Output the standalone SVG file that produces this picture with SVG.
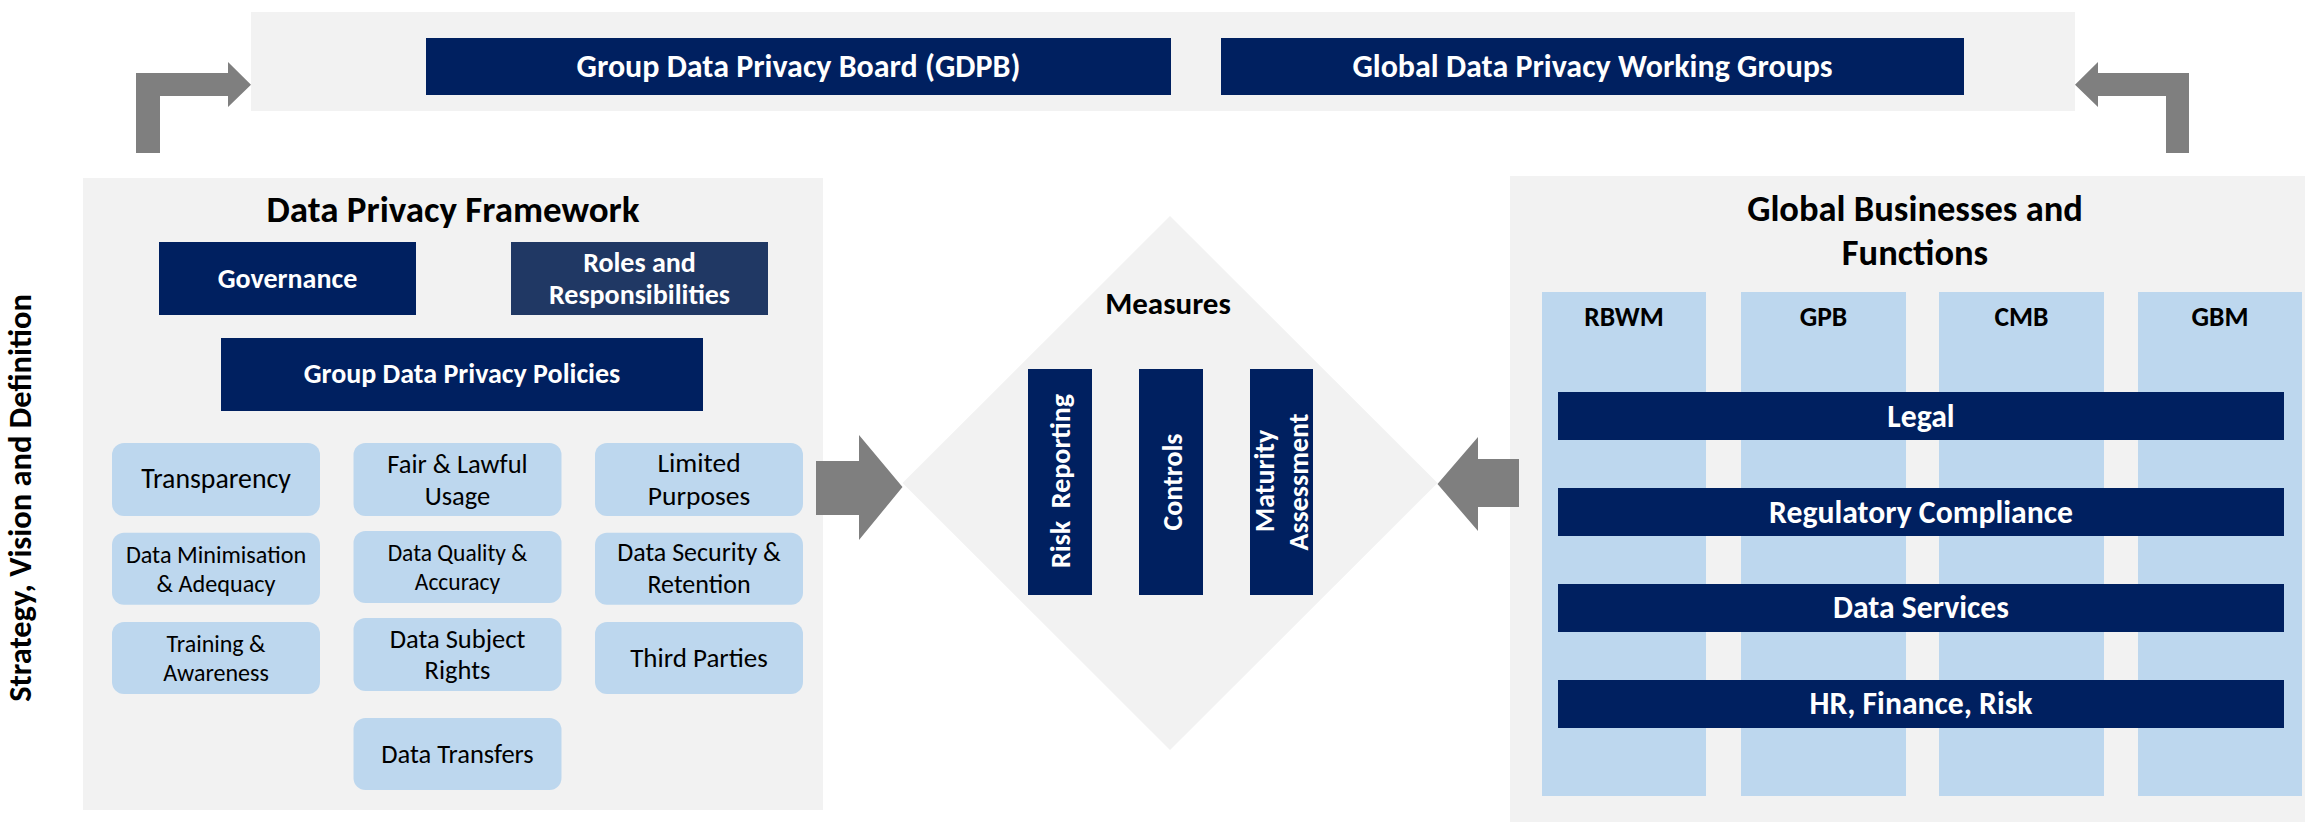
<svg xmlns="http://www.w3.org/2000/svg" width="2305" height="822" viewBox="0 0 2305 822">
<style>
.panel{fill:#f2f2f2}
.navy{fill:#002060}
.navy2{fill:#203864}
.lb{fill:#bdd7ee}
.arrow{fill:#7f7f7f}
text{font-family:Carlito,Lato,"Liberation Sans",sans-serif;text-anchor:middle}
.w{fill:#ffffff;font-weight:bold}
.b{fill:#000000;font-weight:bold}
.r{fill:#000000}
</style>
<rect width="2305" height="822" fill="#ffffff"/>

<g id="top-band">
<rect class="panel" x="251" y="12" width="1824" height="99"/>
</g>
<g id="gdpb">
<rect class="navy" x="426" y="38" width="745" height="57"/>
<text class="w" x="798.5" y="77" font-size="32">Group Data Privacy Board (GDPB)</text>
</g>
<g id="gdpwg">
<rect class="navy" x="1221" y="38" width="743" height="57"/>
<text class="w" x="1592.5" y="77" font-size="32">Global Data Privacy Working Groups</text>
</g>

<g id="strategy-label">
<text class="b" transform="translate(31,498) rotate(-90)" font-size="32.5">Strategy, Vision and Definition</text>
</g>

<g id="framework">
<rect class="panel" x="83" y="178" width="740" height="632"/>
<text class="b" x="453" y="222" font-size="37">Data Privacy Framework</text>
</g>
<g id="governance">
<rect class="navy" x="159" y="242" width="257" height="73"/>
<text class="w" x="287.5" y="288" font-size="28">Governance</text>
</g>
<g id="roles">
<rect class="navy2" x="511" y="242" width="257" height="73"/>
<text class="w" x="639.5" y="272" font-size="28">Roles and</text>
<text class="w" x="639.5" y="304" font-size="28">Responsibilities</text>
</g>
<g id="policies">
<rect class="navy" x="221" y="338" width="482" height="73"/>
<text class="w" x="462" y="383" font-size="28">Group Data Privacy Policies</text>
</g>

<g id="transparency">
<rect class="lb" x="112" y="443" width="208" height="73" rx="12"/>
<text class="r" x="216" y="488" font-size="27.8">Transparency</text>
</g>
<g id="fair-lawful">
<rect class="lb" x="353.5" y="443" width="208" height="73" rx="12"/>
<text class="r" x="457.5" y="473" font-size="26.5">Fair &amp; Lawful</text>
<text class="r" x="457.5" y="505" font-size="26.5">Usage</text>
</g>
<g id="limited-purposes">
<rect class="lb" x="595" y="443" width="208" height="73" rx="12"/>
<text class="r" x="699" y="472" font-size="27.5">Limited</text>
<text class="r" x="699" y="505" font-size="27.5">Purposes</text>
</g>
<g id="minimisation">
<rect class="lb" x="112" y="532.7" width="208" height="72" rx="12"/>
<text class="r" x="216" y="563" font-size="24.2">Data Minimisation</text>
<text class="r" x="216" y="592" font-size="24.2">&amp; Adequacy</text>
</g>
<g id="quality">
<rect class="lb" x="353.5" y="531" width="208" height="72" rx="12"/>
<text class="r" x="457.5" y="561" font-size="23.5">Data Quality &amp;</text>
<text class="r" x="457.5" y="590" font-size="23.5">Accuracy</text>
</g>
<g id="security">
<rect class="lb" x="595" y="532.7" width="208" height="72" rx="12"/>
<text class="r" x="699" y="561" font-size="26">Data Security &amp;</text>
<text class="r" x="699" y="593" font-size="26">Retention</text>
</g>
<g id="training">
<rect class="lb" x="112" y="622" width="208" height="72" rx="12"/>
<text class="r" x="216" y="652" font-size="24">Training &amp;</text>
<text class="r" x="216" y="681" font-size="24">Awareness</text>
</g>
<g id="subject-rights">
<rect class="lb" x="353.5" y="618" width="208" height="73" rx="12"/>
<text class="r" x="457.5" y="648" font-size="26.5">Data Subject</text>
<text class="r" x="457.5" y="679" font-size="26.5">Rights</text>
</g>
<g id="third-parties">
<rect class="lb" x="595" y="622" width="208" height="72" rx="12"/>
<text class="r" x="699" y="667" font-size="27">Third Parties</text>
</g>
<g id="transfers">
<rect class="lb" x="353.5" y="718" width="208" height="72" rx="12"/>
<text class="r" x="457.5" y="763" font-size="26.5">Data Transfers</text>
</g>

<g id="measures">
<polygon class="panel" points="1170,216 1437.5,483 1170,750 902.5,483"/>
<text class="b" x="1168" y="314" font-size="31">Measures</text>
</g>
<g id="risk-reporting">
<rect class="navy" x="1028" y="369" width="64" height="226"/>
<text class="w" transform="translate(1070,481) rotate(-90)" font-size="28" xml:space="preserve">Risk  Reporting</text>
</g>
<g id="controls">
<rect class="navy" x="1139" y="369" width="64" height="226"/>
<text class="w" transform="translate(1181.5,482) rotate(-90)" font-size="28">Controls</text>
</g>
<g id="maturity">
<rect class="navy" x="1250" y="369" width="63" height="226"/>
<text class="w" transform="translate(1274,481) rotate(-90)" font-size="28">Maturity</text>
<text class="w" transform="translate(1308,482) rotate(-90)" font-size="28">Assessment</text>
</g>

<g id="businesses">
<rect class="panel" x="1510" y="176" width="795" height="646"/>
<text class="b" x="1915" y="221" font-size="36.5">Global Businesses and</text>
<text class="b" x="1915" y="265" font-size="36.5">Functions</text>
</g>
<g id="rbwm">
<rect class="lb" x="1542" y="292" width="164" height="504"/>
<text class="b" x="1624" y="326" font-size="27.5">RBWM</text>
</g>
<g id="gpb">
<rect class="lb" x="1741" y="292" width="165" height="504"/>
<text class="b" x="1823.5" y="326" font-size="27.5">GPB</text>
</g>
<g id="cmb">
<rect class="lb" x="1939" y="292" width="165" height="504"/>
<text class="b" x="2021.5" y="326" font-size="27.5">CMB</text>
</g>
<g id="gbm">
<rect class="lb" x="2138" y="292" width="164" height="504"/>
<text class="b" x="2220" y="326" font-size="27.5">GBM</text>
</g>
<g id="legal">
<rect class="navy" x="1558" y="392" width="726" height="48"/>
<text class="w" x="1921" y="426.5" font-size="31.7">Legal</text>
</g>
<g id="regulatory">
<rect class="navy" x="1558" y="488" width="726" height="48"/>
<text class="w" x="1921" y="522.5" font-size="31.7">Regulatory Compliance</text>
</g>
<g id="data-services">
<rect class="navy" x="1558" y="584" width="726" height="48"/>
<text class="w" x="1921" y="618" font-size="31.7">Data Services</text>
</g>
<g id="hr-finance-risk">
<rect class="navy" x="1558" y="680" width="726" height="48"/>
<text class="w" x="1921" y="714" font-size="31.7">HR, Finance, Risk</text>
</g>

<g id="connectors">
<polygon class="arrow" points="136,153 136,73 228,73 228,62 251,84.7 228,107 228,96 160,96 160,153"/>
<polygon class="arrow" points="2189,153 2189,73 2098,73 2098,62 2075,84.7 2098,107 2098,96 2166,96 2166,153"/>
<polygon class="arrow" points="816,461 859,461 859,435 902.5,487 859,540 859,515 816,515"/>
<polygon class="arrow" points="1519,459 1478,459 1478,437 1437.5,484 1478,531 1478,507 1519,507"/>
</g>
</svg>
